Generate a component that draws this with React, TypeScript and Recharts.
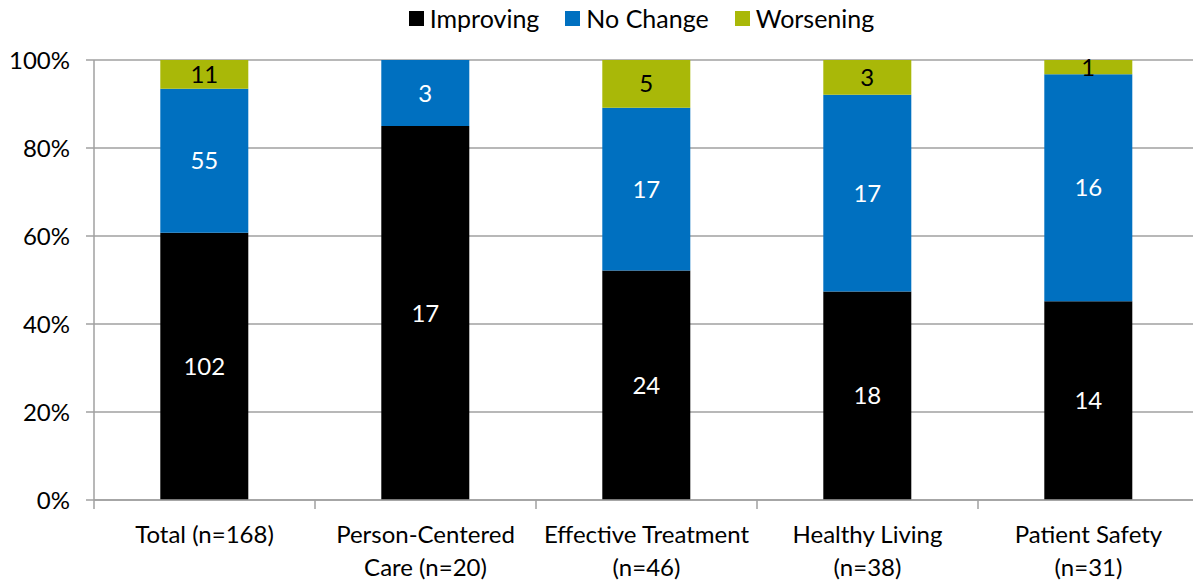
import React from 'react';
import { BarChart, Bar, XAxis, YAxis, CartesianGrid, Legend, LabelList } from 'recharts';

const categories = ['Total', 'Person-Centered Care', 'Effective Treatment', 'Healthy Living', 'Patient Safety'];
const tickLabels = [
  ['Total (n=168)'],
  ['Person-Centered', 'Care (n=20)'],
  ['Effective Treatment', '(n=46)'],
  ['Healthy Living', '(n=38)'],
  ['Patient Safety', '(n=31)'],
];
const improving = [102, 17, 24, 18, 14];
const noChange = [55, 3, 17, 17, 16];
const worsening = [11, 0, 5, 3, 1];
const yTicks = [0, 0.2, 0.4, 0.6, 0.8, 1];

const seriesInfo = [
  { key: 'improving', label: 'Improving', color: '#000000', text: '#FFFFFF' },
  { key: 'noChange', label: 'No Change', color: '#0070C0', text: '#FFFFFF' },
  { key: 'worsening', label: 'Worsening', color: '#A9B808', text: '#000000' },
];

const data = categories.map((name, i) => ({
  name,
  improving: improving[i],
  noChange: noChange[i],
  worsening: worsening[i],
}));

const FONT = 'Lato, "Open Sans", sans-serif';
const AXIS_GREY = '#A0A0A0';
const FS = 24;

const CategoryTick = (props: any) => {
  const { x, y, payload, index, width } = props;
  const half = width / categories.length / 2;
  const lines = tickLabels[index] || [payload.value];
  const isLast = index === categories.length - 1;
  return (
    <g>
      <line x1={x - half} y1={y} x2={x - half} y2={y + 9} stroke={AXIS_GREY} strokeWidth={1.5} />
      {isLast && <line x1={x + half} y1={y} x2={x + half} y2={y + 9} stroke={AXIS_GREY} strokeWidth={1.5} />}
      {lines.map((l: string, k: number) => (
        <text key={k} x={x} y={y + 43 + k * 33} textAnchor="middle" fontSize={FS} fontFamily={FONT} fill="#000">
          {l}
        </text>
      ))}
    </g>
  );
};

const LegendContent = () => (
  <div style={{ display: 'flex', justifyContent: 'center', alignItems: 'center', height: 36, fontFamily: FONT, fontSize: 25 }}>
    {seriesInfo.map((s) => (
      <div key={s.key} style={{ display: 'flex', alignItems: 'center', margin: '0 13px' }}>
        <span style={{ display: 'inline-block', width: 15, height: 15, background: s.color, marginRight: 6 }} />
        <span>{s.label}</span>
      </div>
    ))}
  </div>
);

export default function App() {
  return (
    <div style={{ position: 'absolute', left: 0, top: 0, width: 1193, height: 581, overflow: 'hidden', background: '#fff' }}>
      <BarChart
        width={1205}
        height={581}
        data={data}
        stackOffset="expand"
        barCategoryGap="30%"
        margin={{ top: 24, right: 6, bottom: 0, left: 0 }}
      >
        <Legend verticalAlign="top" align="center" content={<LegendContent />} wrapperStyle={{ top: 0, left: 0, width: 1283 }} />
        <CartesianGrid vertical={false} stroke={AXIS_GREY} strokeWidth={1.5} />
        <XAxis
          dataKey="name"
          interval={0}
          tickLine={false}
          tickSize={0}
          tickMargin={0}
          height={81}
          axisLine={{ stroke: AXIS_GREY, strokeWidth: 1.5 }}
          tick={<CategoryTick />}
        />
        <YAxis
          width={94}
          domain={[0, 1]}
          ticks={yTicks}
          tickFormatter={(v: number) => `${Math.round(v * 100)}%`}
          tickSize={8}
          tickMargin={16}
          axisLine={{ stroke: AXIS_GREY, strokeWidth: 1.5 }}
          tickLine={{ stroke: AXIS_GREY, strokeWidth: 1.5 }}
          tick={{ fill: '#000', fontSize: FS, fontFamily: FONT }}
        />
        {seriesInfo.map((s) => (
          <Bar key={s.key} dataKey={s.key} stackId="a" fill={s.color} isAnimationActive={false}>
            <LabelList
              dataKey={s.key}
              position="center"
              fill={s.text}
              fontSize={FS}
              fontFamily={FONT}
              formatter={(v: any) => (v === 0 ? '' : v)}
            />
          </Bar>
        ))}
      </BarChart>
    </div>
  );
}
